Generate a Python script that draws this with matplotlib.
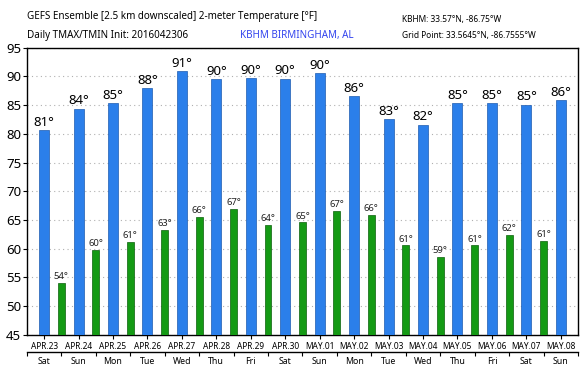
import numpy as np
import matplotlib
matplotlib.use("Agg")
import matplotlib.pyplot as plt

dates = ["APR.23", "APR.24", "APR.25", "APR.26", "APR.27", "APR.28", "APR.29", "APR.30",
         "MAY.01", "MAY.02", "MAY.03", "MAY.04", "MAY.05", "MAY.06", "MAY.07", "MAY.08"]
days = ["Sat", "Sun", "Mon", "Tue", "Wed", "Thu", "Fri", "Sat",
        "Sun", "Mon", "Tue", "Wed", "Thu", "Fri", "Sat", "Sun"]
tmax = [80.6, 84.4, 85.3, 87.9, 90.9, 89.5, 89.7, 89.6,
        90.5, 86.5, 82.6, 81.6, 85.3, 85.4, 85.1, 85.9]
tmin = [54.0, 59.8, 61.2, 63.3, 65.5, 66.9, 64.2, 64.6,
        66.6, 65.9, 60.6, 58.6, 60.6, 62.4, 61.4]

plt.rcParams['font.family'] = ['Noto Sans', 'DejaVu Sans']

fig = plt.figure(figsize=(5.85, 3.75), dpi=100)
ax = fig.add_axes([0.046, 0.107, 0.942, 0.766])

xb = np.arange(len(tmax))
xg = np.arange(len(tmin)) + 0.5
ax.bar(xb, [v - 45 for v in tmax], bottom=45, width=0.29, color="#2B7FEA",
       edgecolor="#1d5bb0", linewidth=0.5, zorder=3)
ax.bar(xg, [v - 45 for v in tmin], bottom=45, width=0.2, color="#149A14",
       edgecolor="#0b600b", linewidth=0.5, zorder=3)

for x, v in zip(xb, tmax):
    ax.text(x, v + 0.2, f"{round(v)}°", ha="center", va="bottom", fontsize=9.5, zorder=4)
for x, v in zip(xg, tmin):
    ax.text(x, v + 0.3, f"{round(v)}°", ha="center", va="bottom", fontsize=6.8, color="#222222", zorder=4)

ax.set_xlim(-0.5, len(tmax) - 0.5)
ax.set_ylim(45, 95)
ax.set_yticks(np.arange(45, 96, 5))
ax.tick_params(axis="y", labelsize=9.5, length=3, pad=1)
ax.yaxis.grid(True, linestyle=(0, (1, 3)), color="#b0b0b0", linewidth=0.8, zorder=0)
ax.set_xticks(xb)
ax.set_xticklabels(dates, fontsize=6)
ax.tick_params(axis="x", length=3, pad=2)
for s in ax.spines.values():
    s.set_linewidth(1.0)

sec = ax.secondary_xaxis(-0.058)
sec.set_xticks(np.arange(-0.5, len(tmax), 1.0))
sec.set_xticklabels([""] * (len(tmax) + 1))
sec.set_xticks(xb, minor=True)
sec.set_xticklabels(days, minor=True, fontsize=6.3)
sec.tick_params(axis="x", which="major", length=3)
sec.tick_params(axis="x", which="minor", length=0, pad=4)
sec.spines["bottom"].set_linewidth(1.0)

fig.text(0.046, 0.955, "GEFS Ensemble [2.5 km downscaled] 2-meter Temperature [°F]",
         fontsize=7.1, va="center")
fig.text(0.046, 0.905, "Daily TMAX/TMIN Init: 2016042306", fontsize=7.1, va="center")
fig.text(0.41, 0.905, "KBHM BIRMINGHAM, AL", fontsize=7.1, va="center", color="#3344ee")
fig.text(0.688, 0.947, "KBHM: 33.57°N, -86.75°W", fontsize=6, va="center")
fig.text(0.688, 0.905, "Grid Point: 33.5645°N, -86.7555°W", fontsize=6, va="center")

fig.savefig("out.png", dpi=100)
